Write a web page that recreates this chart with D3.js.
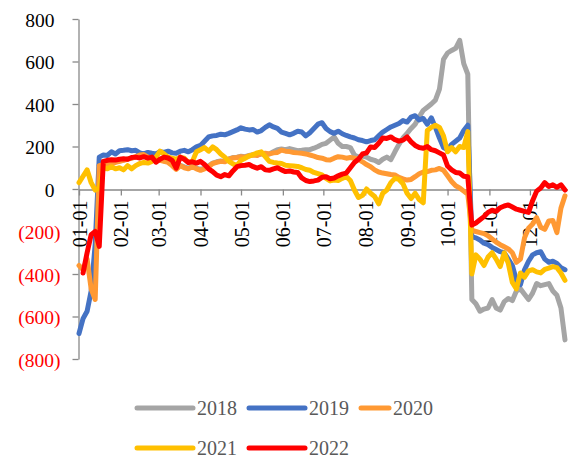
<!DOCTYPE html>
<html>
<head>
<meta charset="utf-8">
<script src="https://cdn.jsdelivr.net/npm/d3@7"></script>
<style>
  html, body { margin: 0; padding: 0; background: #fff; }
  svg { display: block; font-family: "Liberation Serif", "Times New Roman", serif; }
</style>
</head>
<body>
<svg id="chart" width="568" height="459"></svg>
<script>
// Series names and colours (drawn in this order, last on top)
const seriesNames = ["2018", "2019", "2020", "2021", "2022"];
const seriesColors = ["#A5A5A5", "#4472C4", "#FF9933", "#FFC000", "#FF0000"];

// Observations every 3 days starting 01-01
const dayStep = 3;

const v2018 = [
  null, null, null, null, null,
  112, 118, 122, 120, 128, 132, 136, 142, 146, 150, 158, 160, 152, 146, 142, 138, 132, 128, 115, 100,
  112, 104, 98, 108, 98, 92, 98, 108, 122, 128, 132, 130, 142, 148, 150, 154, 152, 158, 162, 160,
  165, 160, 165, 175,
  185, 188, 185, 190, 185, 180, 182, 185, 185, 192, 200, 210, 215, 230, 245, 215, 200, 200, 195, 160,
  150, 155, 150, 140, 135, 125, 140, 150, 138, 175, 210, 240, 262, 285, 305, 340, 370, 385, 400, 418,
  470, 610, 640, 652, 662, 700, 590, 540,
  -520, -540, -575, -565, -560, -520, -560, -570, -530, -515, -525, -480, -470, -495, -520, -490,
  -445, -455, -450, -445, -480, -500, -560, -710
];

const v2019 = [
  -680, -610, -575, -480, -260,
  150, 160, 158, 175, 165, 180, 182, 185, 180, 182, 170, 165, 172, 168, 165, 175, 172, 178, 170, 168,
  178, 182, 175, 185, 198, 205,
  225, 245, 250, 252, 258, 255, 262, 270, 278, 288, 282, 278, 280, 268, 275, 290, 302, 292, 285, 268,
  262, 255, 262, 272, 268, 250, 265, 285, 305, 312,
  285, 270, 262, 272, 260, 252, 245, 240, 232, 228, 222, 228, 232, 250, 268, 280, 292, 300, 308, 322,
  315, 338, 345, 325, 332, 305, 335, 290, 240, 195, 185, 210, 225, 240, 275, 300,
  -225, -230, -240, -255, -262, -275, -285, -295, -300, -330, -360, -430, -450, -380, -340, -310,
  -300, -295, -330, -345, -340, -350, -370, -380
];

const v2020 = [
  -360, -380, -330, -470, -520,
  110, 115, 120, 118, 125, 130, 135, 140, 145, 152, 160, 162, 150, 145, 140, 135, 130, 125, 110, 92,
  110, 100, 95, 105, 95, 88, 95, 105, 120, 125, 130, 128, 140, 146, 148, 152, 150, 156, 160, 158,
  166, 168, 165, 170,
  172, 183, 178, 176, 172, 170, 168, 165, 160, 155, 148, 145, 138, 136, 145, 152, 150, 145, 148, 145,
  140, 128, 115, 105, 90, 80, 75, 72, 68, 66, 55, 48, 42, 45, 58, 72, 80, 82, 88, 90,
  97, 88, 62, 35, 15, 5, -10, -25,
  -195, -200, -205, -210, -220, -235, -250, -262, -272, -282, -300, -345, -330, -230, -185, -165,
  -135, -180, -190, -150, -148, -205, -90, -32
];

const v2021 = [
  30, 60, 90, 30, -5, 5,
  100, 95, 105, 95, 100, 90, 110, 95, 110, 120, 125, 122, 130, 150, 178, 165, 150, 145, 140, 150,
  145, 125, 130, 175, 185,
  195, 178, 198, 185, 165, 150, 130, 118, 110, 135, 145, 155, 162, 170, 175, 152, 130, 125, 122, 120,
  112, 110, 108, 106, 100, 92, 88, 78, 72, 66,
  50, 38, 42, 40, 50, 58, 40, -5, -40, -30, 0, -20, -35, -70, -20, -5, 30, 50, 45, 25,
  -20, -45, -20, -50, -65, 275, 290, 300, 290, 250, 175, 195, 175, 200, 195, 270,
  -400, -310, -330, -360, -320, -300, -330, -365, -300, -350, -440, -470, -395, -415, -385, -380,
  -390, -395, -378, -372, -365, -370, -395, -430
];

const v2022 = [
  null, -395, -300, -215, -200, -270,
  130, 135, 138, 136, 140, 142, 140, 148, 150, 146, 152, 145, 150, 126, 140, 150, 146, 135, 98, 150,
  140, 125, 128, 122, 130,
  115, 95, 82, 65, 58, 68, 62, 85, 105, 110, 112, 115, 105, 98, 105, 90, 88, 95, 100, 90,
  82, 85, 80, 78, 52, 40, 35, 38, 42, 55,
  58, 48, 52, 62, 70, 75, 100, 125, 140, 165, 170, 198, 195, 215, 240, 238, 245, 232, 225, 230,
  245, 222, 205, 195, 192, 200, 185, 180, 170, 160, 108, 90, 78, 75, 60, 58,
  -170, -160, -145, -130, -110, -100, -105, -88, -80, -75, -85, -95, -100, -105, -110, -55,
  -10, 5, 30, 12, 20, 8, 20, -5
];

const seriesValues = [v2018, v2019, v2020, v2021, v2022];

// Axis ticks and labels
const yTicks = [800, 600, 400, 200, 0, -200, -400, -600, -800];
const monthLabels = ["01-01", "02-01", "03-01", "04-01", "05-01", "06-01",
                     "07-01", "08-01", "09-01", "10-01", "11-01", "12-01"];

const svg = d3.select("#chart");
const axisColor = "#898989";

const yearStart = new Date(2021, 0, 1);
const yearEnd = new Date(2021, 11, 31);

const x = d3.scaleTime().domain([yearStart, yearEnd]).range([79, 570.4]);
const y = d3.scaleLinear().domain([-800, 800]).range([359, 19]);

// Y axis
const yAxis = d3.axisLeft(y)
  .tickValues(yTicks)
  .tickSize(6)
  .tickSizeOuter(0)
  .tickFormat(v => v < 0 ? `(${-v})` : `${v}`);

const yg = svg.append("g").attr("transform", "translate(78.5,0)").call(yAxis);
yg.select(".domain").attr("stroke", axisColor).attr("stroke-width", 1.3);
yg.selectAll(".tick line").attr("stroke", axisColor).attr("stroke-width", 1.3);
yg.selectAll(".tick text")
  .attr("font-family", "Liberation Serif, Times New Roman, serif")
  .attr("font-size", 19.5)
  .attr("fill", d => d < 0 ? "#FF0000" : "#000")
  .attr("x", d => d < 0 ? -18 : -24)
  .attr("dy", "0.36em");

// X axis along the zero line
const monthStarts = d3.timeMonth.range(yearStart, new Date(2022, 0, 1));
const xAxis = d3.axisBottom(x)
  .tickValues(monthStarts)
  .tickSize(6)
  .tickSizeOuter(0)
  .tickFormat((d, i) => monthLabels[i]);

const xg = svg.append("g").attr("transform", `translate(0,${y(0) + 0.5})`).call(xAxis);
xg.select(".domain").attr("stroke", axisColor).attr("stroke-width", 1.3);
xg.selectAll(".tick line").attr("stroke", axisColor).attr("stroke-width", 1.3);
xg.selectAll(".tick text")
  .attr("font-family", "Liberation Serif, Times New Roman, serif")
  .attr("font-size", 20)
  .attr("fill", "#000")
  .attr("transform", "rotate(-90)")
  .attr("text-anchor", "end")
  .attr("x", -11)
  .attr("y", 0)
  .attr("dy", "0.35em");

// Series lines
const line = d3.line()
  .defined(d => d.v !== null)
  .x(d => x(d.date))
  .y(d => y(d.v));

seriesNames.forEach((name, k) => {
  const pts = seriesValues[k].map((v, i) => ({ date: d3.timeDay.offset(yearStart, i * dayStep), v }));
  svg.append("path")
    .datum(pts)
    .attr("fill", "none")
    .attr("stroke", seriesColors[k])
    .attr("stroke-width", 5)
    .attr("stroke-linejoin", "round")
    .attr("stroke-linecap", "round")
    .attr("d", line);
});

// Legend: two rows
const legendItems = [
  { k: 0, x0: 137, x1: 193, tx: 197, ty: 408 },
  { k: 1, x0: 249, x1: 305, tx: 309, ty: 408 },
  { k: 2, x0: 361, x1: 389, tx: 393, ty: 408 },
  { k: 3, x0: 137, x1: 193, tx: 197, ty: 448 },
  { k: 4, x0: 249, x1: 305, tx: 309, ty: 448 }
];
const lg = svg.append("g");
legendItems.forEach(it => {
  lg.append("line")
    .attr("x1", it.x0).attr("x2", it.x1)
    .attr("y1", it.ty).attr("y2", it.ty)
    .attr("stroke", seriesColors[it.k])
    .attr("stroke-width", 5)
    .attr("stroke-linecap", "round");
  lg.append("text")
    .attr("x", it.tx).attr("y", it.ty)
    .attr("dy", "0.35em")
    .attr("font-size", 20)
    .attr("fill", "#595959")
    .text(seriesNames[it.k]);
});
</script>
</body>
</html>
